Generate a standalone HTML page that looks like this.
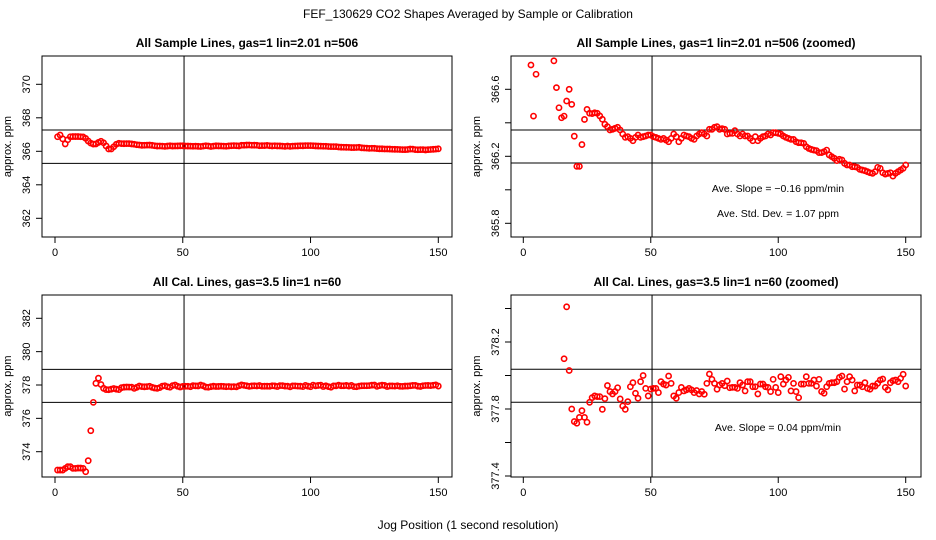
<!DOCTYPE html>
<html><head><meta charset="utf-8"><style>
html,body{margin:0;padding:0;background:#fff;width:936px;height:540px;overflow:hidden}
svg{display:block;position:absolute;left:0;top:0;font-family:"Liberation Sans",sans-serif}
</style></head><body>
<svg id="c" width="936" height="540" viewBox="0 0 936 540" xmlns="http://www.w3.org/2000/svg">
<text x="468" y="18" text-anchor="middle" font-size="12">FEF_130629  CO2 Shapes Averaged by Sample or Calibration</text>
<text x="468" y="529" text-anchor="middle" font-size="12">Jog Position (1 second resolution)</text>
</svg>
<script>
const sampleVals = [366.87,366.97,366.745,366.44,366.69,366.87,366.88,366.88,366.88,366.87,366.86,366.77,366.61,366.49,366.43,366.44,366.53,366.6,366.51,366.32,366.14,366.14,366.27,366.42,366.48,
366.457,366.455,366.46,366.457,366.441,366.421,366.391,366.377,366.357,366.361,366.367,366.373,366.357,366.333,366.313,366.317,366.307,366.293,366.313,366.327,366.313,366.317,366.321,366.327,366.327,
366.317,366.313,366.307,366.301,366.307,366.297,366.287,366.307,366.333,366.317,366.287,366.307,366.327,366.321,366.317,366.307,366.301,366.321,366.333,366.341,366.333,366.321,366.361,366.361,366.373,
366.377,366.361,366.365,366.361,366.333,366.337,366.337,366.353,366.333,366.321,366.333,366.321,366.321,366.307,366.293,366.317,366.293,366.307,366.317,366.321,366.333,366.327,366.341,366.341,366.337,
366.333,366.321,366.313,366.307,366.301,366.301,366.287,366.281,366.281,366.277,366.257,366.247,366.241,366.237,366.234,366.222,366.222,366.228,366.237,366.208,366.198,366.188,366.174,366.182,366.178,
366.158,366.148,366.148,366.138,366.138,366.134,366.122,366.118,366.114,366.108,366.102,366.098,366.108,366.134,366.128,366.102,366.094,366.098,366.102,366.082,366.098,366.108,366.118,366.128,366.148];
const calVals = [372.9,372.9,372.9,373.0,373.1,373.1,373.0,373.0,373.02,373.02,373.0,372.8,373.46,375.26,376.96,
378.10,378.41,378.03,377.80,377.725,377.715,377.75,377.79,377.75,377.721,377.84,377.868,377.878,377.874,377.874,377.798,377.862,377.94,377.904,377.89,377.904,377.927,377.86,377.818,377.798,
377.844,377.933,377.957,377.894,377.864,377.963,378.0,377.923,377.878,377.919,377.923,377.923,377.898,377.963,377.949,377.943,377.997,377.953,377.878,377.864,377.898,377.929,377.908,377.914,377.923,
377.914,377.898,377.91,377.89,377.904,377.888,377.953,378.009,377.977,377.953,377.918,377.943,377.953,377.939,377.967,377.927,377.929,377.929,377.923,377.957,377.943,377.908,377.963,377.963,377.933,
377.933,377.89,377.949,377.949,377.933,377.929,377.904,377.977,377.929,377.898,377.993,377.949,377.973,377.989,377.908,377.953,377.904,377.868,377.949,377.949,377.993,377.953,377.953,377.973,377.937,
377.977,377.904,377.894,377.933,377.953,377.957,377.957,377.963,377.989,377.997,377.919,377.963,377.993,377.973,377.908,377.943,377.943,377.933,377.957,377.923,377.918,377.937,377.937,377.953,377.973,
377.979,377.929,377.914,377.957,377.969,377.973,377.963,377.983,378.007,377.937];
const sampleBand = [367.27,365.28];
const sampleZoomBand = [366.357,366.16];
const calBand = [378.94,376.96];
const calZoomBand = [378.037,377.84];
const xTicks = [0,50,100,150];
const sampleTicks = [362,364,366,368,370];
const sampleZoomTicks = [365.8,366.0,366.2,366.4,366.6];
const sampleZoomLabels = ["365.8","","366.2","","366.6"];
const calTicks = [374,376,378,380,382];
const calZoomTicks = [377.4,377.6,377.8,378.0,378.2,378.4];
const calZoomLabels = ["377.4","","377.8","","378.2",""];
const vLine = 50.5;

const NS="http://www.w3.org/2000/svg";
const svg=document.getElementById('c');
function mk(tag,attrs,parent){const e=document.createElementNS(NS,tag);for(const k in attrs)e.setAttribute(k,attrs[k]);(parent||svg).appendChild(e);return e;}

function panel(p){
  const g=mk('g',{});
  
  
  const xs=v=>p.x0+(v-0)*(p.x150-p.x0)/150;
  const ys=v=>p.yA+(v-p.vA)*(p.yB-p.yA)/(p.vB-p.vA);
  const t=mk('text',{x:(p.L+p.R)/2,y:p.T-9,'text-anchor':'middle','font-size':12,'font-weight':'bold'},g);
  t.textContent=p.title;
  
  
  const b=mk('rect',{x:p.L,y:p.T,width:p.R-p.L,height:p.B-p.T,fill:'none',stroke:'#000','stroke-width':1},g);
  
  
  xTicks.forEach(v=>{
    const X=xs(v);
    mk('line',{x1:X,x2:X,y1:p.B,y2:p.B+6,stroke:'#000'},g);
    const l=mk('text',{x:X,y:p.B+19,'text-anchor':'middle','font-size':11},g);
    l.textContent=v;
    
    
  });
  p.yt.forEach((v,i)=>{
    const Y=ys(v);
    mk('line',{x1:p.L-6,x2:p.L,y1:Y,y2:Y,stroke:'#000'},g);
    const lab=p.yl?p.yl[i]:String(v);
    if(lab){
      const l=mk('text',{x:0,y:0,'text-anchor':'middle','font-size':11,transform:`translate(${p.L-12},${Y}) rotate(-90)`},g);
      l.textContent=lab;
      
      
    }
  });
  const yl=mk('text',{x:0,y:0,'text-anchor':'middle','font-size':11,transform:`translate(${p.L-31},${(p.T+p.B)/2}) rotate(-90)`},g);
  yl.textContent='approx. ppm';
  
  
  const cid='clip'+p.name;
  const cp=mk('clipPath',{id:cid},g);
  mk('rect',{x:p.L,y:p.T,width:p.R-p.L,height:p.B-p.T},cp);
  const pg=mk('g',{'clip-path':`url(#${cid})`},g);
  p.band.forEach(v=>{
    const ln=mk('line',{x1:p.L,x2:p.R,y1:ys(v),y2:ys(v),stroke:'#000'},pg);
    
    
  });
  const vl=mk('line',{x1:xs(vLine),x2:xs(vLine),y1:p.T,y2:p.B,stroke:'#000'},pg);
  
  
  p.data.forEach((v,i)=>{
    const c=mk('circle',{cx:xs(i+1),cy:ys(v),r:2.6,fill:'none',stroke:'#f00','stroke-width':1.6},pg);
    
    
  });
  (p.notes||[]).forEach(n=>{
    const tx=mk('text',{x:n[0],y:n[1],'text-anchor':'middle','font-size':10.5},g);
    tx.textContent=n[2];
    
    
  });
}
panel({name:'sample-panel',title:'All Sample Lines, gas=1 lin=2.01 n=506',L:42,R:452,T:56,B:237,x0:55,x150:438.3,yA:84.3,vA:370,yB:218.3,vB:362,yt:sampleTicks,band:sampleBand,data:sampleVals});
panel({name:'sample-zoom-panel',title:'All Sample Lines, gas=1 lin=2.01 n=506 (zoomed)',L:511,R:921,T:56,B:237,x0:523.3,x150:905.7,yA:89.3,vA:366.6,yB:223.3,vB:365.8,yt:sampleZoomTicks,yl:sampleZoomLabels,band:sampleZoomBand,data:sampleVals,
  notes:[[778,192,'Ave. Slope =  \u22120.16  ppm/min'],[778,217,'Ave. Std. Dev. =  1.07  ppm']]});
panel({name:'cal-panel',title:'All Cal. Lines, gas=3.5 lin=1 n=60',L:42,R:452,T:295,B:477,x0:55,x150:438.3,yA:318.3,vA:382,yB:451.7,vB:374,yt:calTicks,band:calBand,data:calVals});
panel({name:'cal-zoom-panel',title:'All Cal. Lines, gas=3.5 lin=1 n=60 (zoomed)',L:511,R:921,T:295,B:477,x0:523.3,x150:905.7,yA:342,vA:378.2,yB:476,vB:377.4,yt:calZoomTicks,yl:calZoomLabels,band:calZoomBand,data:calVals,
  notes:[[778,431,'Ave. Slope =  0.04  ppm/min']]});
</script>
</body></html>
